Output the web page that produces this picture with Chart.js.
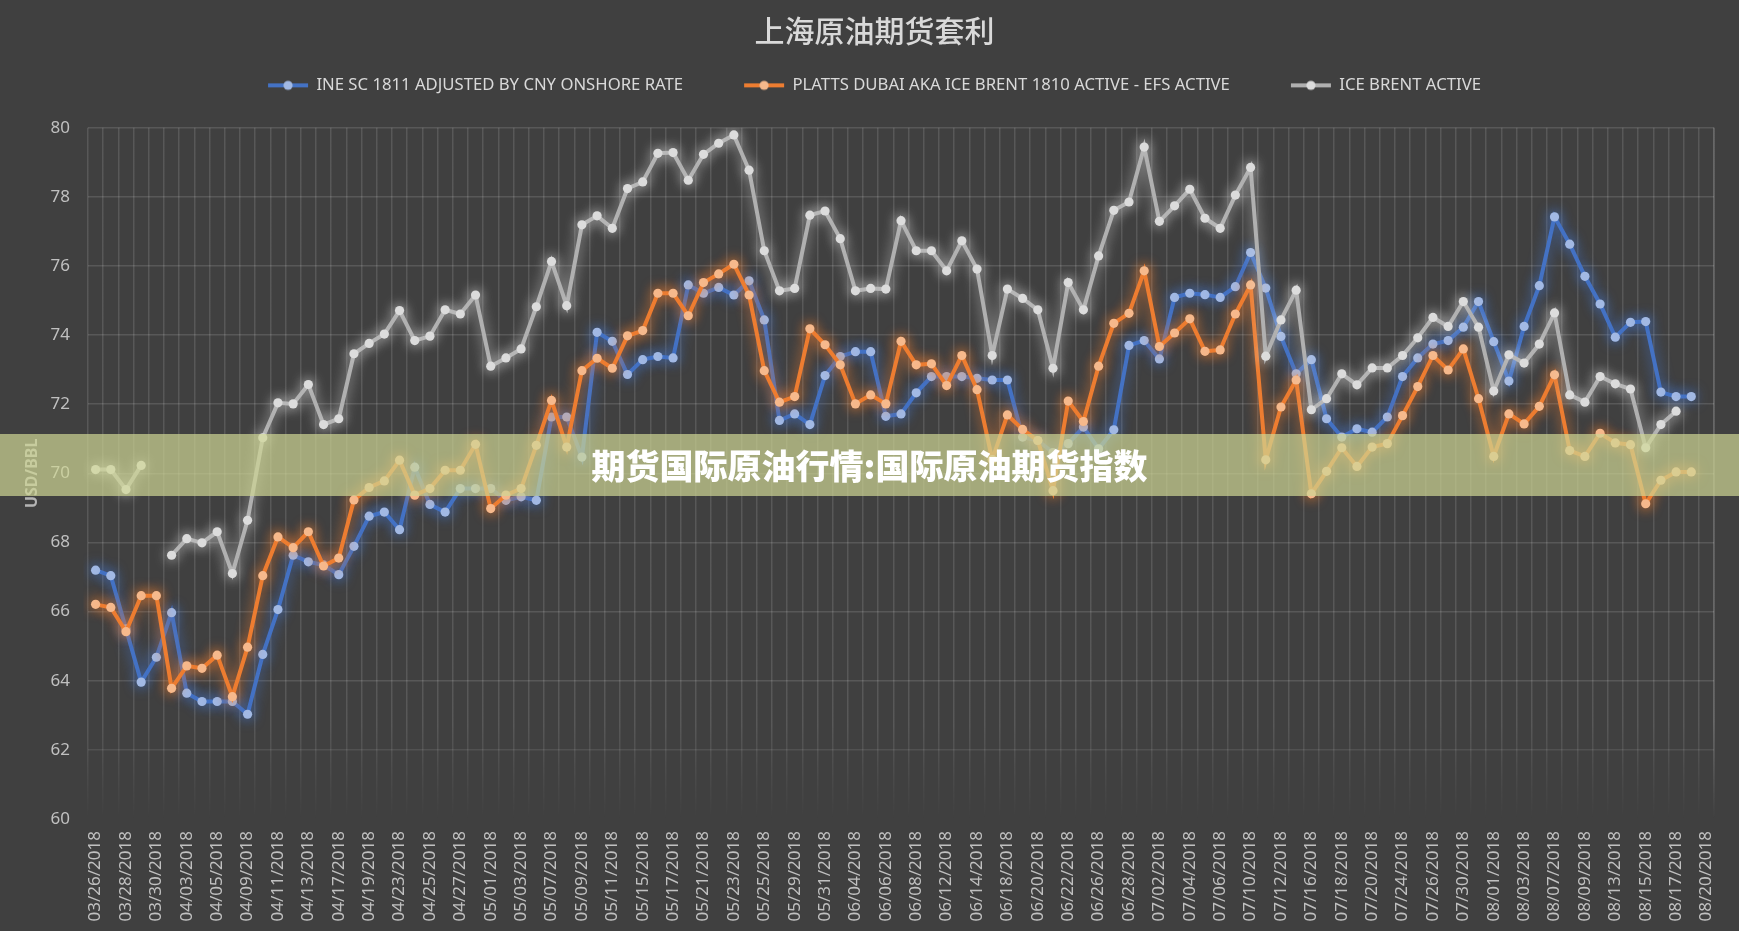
<!DOCTYPE html>
<html>
<head>
<meta charset="utf-8">
<script src="https://cdn.jsdelivr.net/npm/chart.js@4/dist/chart.umd.min.js"></script>
<style>
  html, body { margin: 0; padding: 0; background: #404040; }
  #wrap { position: relative; width: 1739px; height: 931px; overflow: hidden; }
  #band {
    position: absolute; left: 0; top: 434px; width: 1739px; height: 62px;
    background: rgba(207, 213, 148, 0.7);
    color: #ffffff; font-family: "Noto Sans CJK SC", sans-serif; font-weight: 900;
    font-size: 34px; line-height: 62px; text-align: center; z-index: 5;
  }
</style>
</head>
<body>
<div id="wrap">
  <canvas id="c" width="1739" height="931"></canvas>
  <div id="band">期货国际原油行情:国际原油期货指数</div>
</div>
<script>
const chartTitle = '上海原油期货套利';
const yAxisTitle = 'USD/BBL';
const seriesNames = [
  'INE SC 1811 ADJUSTED BY CNY ONSHORE RATE',
  'PLATTS DUBAI AKA ICE BRENT 1810 ACTIVE - EFS ACTIVE',
  'ICE BRENT ACTIVE'
];
const dates = [
  '03/26/2018','03/27/2018','03/28/2018','03/29/2018','03/30/2018','04/02/2018','04/03/2018','04/04/2018','04/05/2018','04/06/2018',
  '04/09/2018','04/10/2018','04/11/2018','04/12/2018','04/13/2018','04/16/2018','04/17/2018','04/18/2018','04/19/2018','04/20/2018',
  '04/23/2018','04/24/2018','04/25/2018','04/26/2018','04/27/2018','04/30/2018','05/01/2018','05/02/2018','05/03/2018','05/04/2018',
  '05/07/2018','05/08/2018','05/09/2018','05/10/2018','05/11/2018','05/14/2018','05/15/2018','05/16/2018','05/17/2018','05/18/2018',
  '05/21/2018','05/22/2018','05/23/2018','05/24/2018','05/25/2018','05/28/2018','05/29/2018','05/30/2018','05/31/2018','06/01/2018',
  '06/04/2018','06/05/2018','06/06/2018','06/07/2018','06/08/2018','06/11/2018','06/12/2018','06/13/2018','06/14/2018','06/15/2018',
  '06/18/2018','06/19/2018','06/20/2018','06/21/2018','06/22/2018','06/25/2018','06/26/2018','06/27/2018','06/28/2018','06/29/2018',
  '07/02/2018','07/03/2018','07/04/2018','07/05/2018','07/06/2018','07/09/2018','07/10/2018','07/11/2018','07/12/2018','07/13/2018',
  '07/16/2018','07/17/2018','07/18/2018','07/19/2018','07/20/2018','07/23/2018','07/24/2018','07/25/2018','07/26/2018','07/27/2018',
  '07/30/2018','07/31/2018','08/01/2018','08/02/2018','08/03/2018','08/06/2018','08/07/2018','08/08/2018','08/09/2018','08/10/2018',
  '08/13/2018','08/14/2018','08/15/2018','08/16/2018','08/17/2018','08/18/2018','08/20/2018'
];
const ineSc = [
  67.20,67.04,65.50,63.96,64.68,65.97,63.64,63.40,63.40,63.40,
  63.03,64.76,66.06,67.63,67.44,67.35,67.07,67.89,68.76,68.88,
  68.37,70.18,69.10,68.88,69.56,69.56,69.56,69.22,69.32,69.22,
  71.63,71.63,70.47,74.08,73.82,72.86,73.29,73.38,73.34,75.45,
  75.21,75.38,75.16,75.57,74.44,71.53,71.72,71.41,72.83,73.38,
  73.52,73.52,71.65,71.72,72.33,72.80,72.80,72.80,72.75,72.70,
  72.70,71.05,70.95,70.60,70.86,71.34,70.71,71.26,73.70,73.84,
  73.31,75.09,75.21,75.17,75.09,75.40,76.39,75.36,73.96,72.88,
  73.29,71.58,71.05,71.29,71.19,71.63,72.80,73.34,73.74,73.84,
  74.23,74.97,73.81,72.67,74.25,75.43,77.42,76.63,75.70,74.90,
  73.94,74.37,74.39,72.35,72.22,72.22,null
];
const plattsDubai = [
  66.21,66.12,65.42,66.46,66.46,63.78,64.43,64.36,64.74,63.54,
  64.97,67.04,68.16,67.85,68.31,67.32,67.55,69.23,69.59,69.78,
  70.38,69.37,69.56,70.09,70.09,70.84,68.98,69.37,69.56,70.81,
  72.11,70.76,72.97,73.33,73.04,73.98,74.13,75.21,75.21,74.56,
  75.52,75.77,76.05,75.16,72.97,72.06,72.22,74.18,73.72,73.14,
  72.01,72.27,72.01,73.82,73.14,73.17,72.54,73.41,72.42,70.40,
  71.69,71.27,70.95,69.50,72.09,71.50,73.10,74.34,74.63,75.86,
  73.67,74.06,74.47,73.53,73.57,74.61,75.45,70.39,71.92,72.70,
  69.41,70.06,70.74,70.20,70.76,70.86,71.67,72.51,73.41,72.99,
  73.60,72.16,70.49,71.72,71.43,71.94,72.85,70.66,70.49,71.16,
  70.88,70.83,69.12,69.80,70.04,70.04,null
];
const iceBrent = [
  70.11,70.11,69.53,70.23,null,67.63,68.11,67.99,68.31,67.10,
  68.64,71.03,72.04,72.01,72.57,71.41,71.58,73.46,73.76,74.03,
  74.71,73.84,73.97,74.73,74.61,75.16,73.10,73.34,73.60,74.82,
  76.13,74.85,77.19,77.45,77.09,78.24,78.43,79.26,79.28,78.48,
  79.23,79.55,79.79,78.77,76.44,75.28,75.35,77.47,77.59,76.79,
  75.28,75.35,75.33,77.31,76.44,76.44,75.86,76.73,75.91,73.41,
  75.33,75.06,74.73,73.04,75.52,74.73,76.29,77.61,77.85,79.44,
  77.29,77.74,78.22,77.38,77.09,78.05,78.85,73.39,74.44,75.30,
  71.84,72.16,72.88,72.56,73.05,73.05,73.41,73.92,74.51,74.25,
  74.97,74.23,72.38,73.43,73.19,73.74,74.64,72.27,72.06,72.80,
  72.59,72.44,70.74,71.41,71.80,null,null
];
const yTicks = [60, 62, 64, 66, 68, 70, 72, 74, 76, 78, 80];

const lineColors = ['#4472c4', '#ed7d31', '#b0b0b0'];
const markerColors = ['#a2b9e4', '#f6b98c', '#dcdcdc'];
const glowColors = ['rgba(68,114,196,1)', 'rgba(237,125,49,1)', 'rgba(225,225,225,0.8)'];

function legendIcon(i) {
  const cv = document.createElement('canvas');
  cv.width = 42; cv.height = 14;
  const g = cv.getContext('2d');
  g.strokeStyle = lineColors[i]; g.lineWidth = 4;
  g.beginPath(); g.moveTo(1, 7); g.lineTo(41, 7); g.stroke();
  g.fillStyle = markerColors[i];
  g.beginPath(); g.arc(21, 7, 4.6, 0, Math.PI * 2); g.fill();
  return cv;
}

const glowPlugin = {
  id: 'glow',
  beforeDatasetDraw(chart, args) {
    const ctx = chart.ctx;
    ctx.save();
    ctx.shadowColor = glowColors[args.index];
    ctx.shadowBlur = 13;
  },
  afterDatasetDraw(chart) { chart.ctx.restore(); }
};

function fadeGradient(chart) {
  const a = chart.chartArea;
  if (!a) return 'rgba(255,255,255,0.13)';
  const g = chart.ctx.createLinearGradient(0, a.top, 0, a.bottom);
  g.addColorStop(0, 'rgba(255,255,255,0.13)');
  g.addColorStop(0.86, 'rgba(255,255,255,0.13)');
  g.addColorStop(1, 'rgba(255,255,255,0.0)');
  return g;
}

const rightEdgePlugin = {
  id: 'rightEdge',
  beforeDatasetsDraw(chart) {
    const a = chart.chartArea, ctx = chart.ctx;
    ctx.save();
    ctx.strokeStyle = fadeGradient(chart);
    ctx.lineWidth = 1.5;
    ctx.beginPath(); ctx.moveTo(a.right, a.top); ctx.lineTo(a.right, a.bottom); ctx.stroke();
    ctx.restore();
  }
};

const series = [ineSc, plattsDubai, iceBrent];
const datasets = series.map((d, i) => ({
  label: seriesNames[i],
  data: d,
  xAxisID: 'x',
  borderColor: lineColors[i],
  backgroundColor: markerColors[i],
  borderWidth: 4,
  pointRadius: 4.6,
  pointBorderWidth: 0,
  pointBackgroundColor: markerColors[i],
  tension: 0,
  spanGaps: false,
  order: 2 - i
}));

new Chart(document.getElementById('c'), {
  type: 'line',
  data: { labels: dates, datasets },
  options: {
    responsive: false,
    animation: false,
    devicePixelRatio: 1,
    events: [],
    layout: { padding: { left: 26, right: 16, top: 0, bottom: 0 } },
    plugins: {
      tooltip: { enabled: false },
      title: {
        display: true,
        text: chartTitle,
        color: '#d9d9d9',
        font: { family: '"Noto Sans CJK SC", sans-serif', size: 30, weight: 500, lineHeight: 1.2 },
        padding: { top: 13, bottom: -33 }
      },
      legend: {
        display: true,
        position: 'top',
        labels: {
          color: '#d9d9d9',
          font: { family: '"Noto Sans", sans-serif', size: 16.7 },
          usePointStyle: true,
          pointStyleWidth: 40,
          padding: 61,
          generateLabels: () => seriesNames.map((n, i) => ({
            text: n, fillStyle: markerColors[i], strokeStyle: lineColors[i], lineWidth: 0,
            pointStyle: legendIcon(i), hidden: false, datasetIndex: i, fontColor: '#d9d9d9'
          }))
        }
      }
    },
    scales: {
      x: {
        type: 'category',
        position: 'bottom',
        offset: true,
        grid: { display: true, offset: true, drawTicks: false, lineWidth: 1.5, color: (c) => fadeGradient(c.chart) },
        border: { display: false },
        ticks: {
          autoSkip: false, minRotation: 90, maxRotation: 90, padding: 12,
          color: '#c0c0c0', font: { family: '"Noto Sans", sans-serif', size: 17 },
          callback: (v, idx) => (idx % 2 === 0 ? dates[idx] : '')
        },
        afterFit: (s) => { s.height = 112; }
      },
      x2: {
        type: 'category',
        position: 'top',
        display: true,
        grid: { display: false, drawTicks: false },
        border: { display: false },
        ticks: { display: false },
        afterFit: (s) => { s.height = 24; }
      },
      y: {
        type: 'linear',
        min: 60, max: 80,
        afterBuildTicks: (s) => { s.ticks = yTicks.map(v => ({ value: v })); },
        grid: {
          drawTicks: false, lineWidth: 1.5,
          color: (c) => c.tick && c.tick.value === 60 ? 'rgba(0,0,0,0)' : (c.tick && c.tick.value === 62 ? 'rgba(255,255,255,0.09)' : 'rgba(255,255,255,0.13)')
        },
        border: { display: false },
        ticks: { padding: 18, color: '#c0c0c0', font: { family: '"Noto Sans", sans-serif', size: 17 } },
        title: {
          display: true, text: yAxisTitle, color: '#b4b4b4',
          font: { family: '"Noto Sans", sans-serif', size: 16, weight: 'bold', lineHeight: 1.2 },
          padding: { top: -3, bottom: 0 }
        },
        afterFit: (s) => { s.width = 62; }
      }
    }
  },
  plugins: [glowPlugin, rightEdgePlugin]
});
</script>
</body>
</html>
